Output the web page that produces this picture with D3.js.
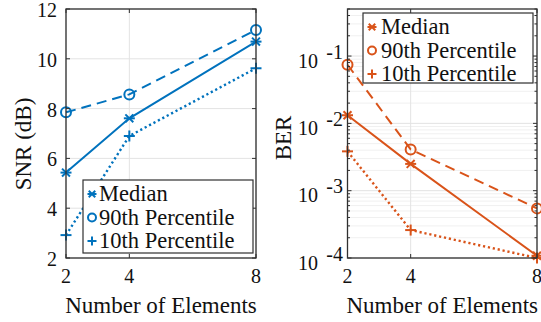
<!DOCTYPE html>
<html>
<head>
<meta charset="utf-8">
<script src="https://cdn.jsdelivr.net/npm/d3@7"></script>
<style>
  body { margin: 0; background: #fff; }
</style>
</head>
<body>
<div id="chart"></div>
<script>
// data
const elements = [2, 4, 8];
const snrMedian = [5.43, 7.61, 10.69];
const snr90 = [7.85, 8.57, 11.16];
const snr10 = [2.92, 6.9, 9.62];
const berMedian = [0.0132, 0.0025, 1.08e-4];
const ber90 = [0.0743, 0.0041, 5.46e-4];
const ber10 = [0.00384, 2.6e-4, 1.0e-4];
const snrTicks = [2, 4, 6, 8, 10, 12];
const berTicks = [1e-4, 1e-3, 1e-2, 1e-1];
const xTicks = [2, 4, 8];
const seriesNames = ["Median", "90th Percentile", "10th Percentile"];

const BLUE = "#0072BD", ORANGE = "#D95319";
const AXIS = "#303030";
const FONT = "Liberation Serif";

const svg = d3.select("#chart")
    .append("svg")
    .attr("width", 541)
    .attr("height", 322);

function label(g, size) {
    return g.append("text")
        .style("font-family", FONT)
        .style("font-size", size + "px")
        .style("fill", "#111");
}

// marker drawing: star (median), circle (90th), plus (10th)
function drawMarker(g, kind, cx, cy, s, color) {
    if (kind === 1) {
        g.append("circle").attr("cx", cx).attr("cy", cy).attr("r", s)
            .attr("fill", "none").attr("stroke", color).attr("stroke-width", 2);
        return;
    }
    let segs = [[-s, 0, s, 0], [0, -s, 0, s]];
    if (kind === 0) {
        let d = s * 0.72;
        segs = [[-d, -d, d, d], [-d, d, d, -d], [-s, 0, s, 0]];
    }
    segs.forEach(function (p) {
        g.append("line")
            .attr("x1", cx + p[0]).attr("y1", cy + p[1])
            .attr("x2", cx + p[2]).attr("y2", cy + p[3])
            .attr("stroke", color).attr("stroke-width", 2);
    });
}

const dashes = [null, "10,6", "2.2,2.8"];

function panel(opts) {
    let x = d3.scaleLinear().domain([2, 8]).range([opts.x0, opts.x1]);
    let y = opts.y;
    let g = svg.append("g");
    let top = opts.yTop, bottom = opts.yBottom;

    // minor grid (log only)
    if (opts.minor) {
        g.selectAll(".minor").data(opts.minor).enter().append("line")
            .attr("x1", opts.x0).attr("x2", opts.x1)
            .attr("y1", function (d) { return y(d); }).attr("y2", function (d) { return y(d); })
            .attr("stroke", "#f0f0f0").attr("stroke-width", 1);
    }
    // major grid
    g.selectAll(".gy").data(opts.ticks).enter().append("line")
        .attr("x1", opts.x0).attr("x2", opts.x1)
        .attr("y1", function (d) { return y(d); }).attr("y2", function (d) { return y(d); })
        .attr("stroke", "#e3e3e3").attr("stroke-width", 1);
    g.selectAll(".gx").data(xTicks).enter().append("line")
        .attr("y1", top).attr("y2", bottom)
        .attr("x1", function (d) { return x(d); }).attr("x2", function (d) { return x(d); })
        .attr("stroke", "#e3e3e3").attr("stroke-width", 1);

    // series lines + markers
    opts.series.forEach(function (vals, i) {
        let line = d3.line()
            .x(function (d, j) { return x(elements[j]); })
            .y(function (d) { return y(d); });
        g.append("path").datum(vals)
            .attr("d", line)
            .attr("fill", "none")
            .attr("stroke", opts.color)
            .attr("stroke-width", i === 2 ? 2.4 : 2)
            .attr("stroke-dasharray", dashes[i]);
        vals.forEach(function (v, j) {
            drawMarker(g, i, x(elements[j]), y(v), i === 1 ? 5 : 5.5, opts.color);
        });
    });

    // box
    g.append("rect")
        .attr("x", opts.x0).attr("y", top)
        .attr("width", opts.x1 - opts.x0).attr("height", bottom - top)
        .attr("fill", "none").attr("stroke", AXIS).attr("stroke-width", 1.3);

    // tick marks (inside, both sides)
    g.selectAll(".tx").data(xTicks).enter().append("path")
        .attr("d", function (d) {
            return `M${x(d)},${bottom}v-4M${x(d)},${top}v4`;
        })
        .attr("stroke", AXIS).attr("stroke-width", 1);
    g.selectAll(".ty").data(opts.ticks).enter().append("path")
        .attr("d", function (d) {
            return `M${opts.x0},${y(d)}h4M${opts.x1},${y(d)}h-4`;
        })
        .attr("stroke", AXIS).attr("stroke-width", 1);
    if (opts.minor) {
        g.selectAll(".tm").data(opts.minor).enter().append("path")
            .attr("d", function (d) {
                return `M${opts.x0},${y(d)}h2.5M${opts.x1},${y(d)}h-2.5`;
            })
            .attr("stroke", AXIS).attr("stroke-width", 1);
    }

    // x tick labels
    xTicks.forEach(function (d) {
        label(g, 20)
            .attr("x", x(d))
            .attr("y", bottom + 25)
            .style("text-anchor", "middle")
            .text(d);
    });

    // x axis label
    label(g, 23)
        .attr("x", (opts.x0 + opts.x1) / 2)
        .attr("y", 313)
        .style("text-anchor", "middle")
        .text("Number of Elements");

    // y axis label
    label(g, 23)
        .attr("transform", `translate(${opts.labelX}, ${opts.labelY}) rotate(-90)`)
        .style("text-anchor", "middle")
        .text(opts.label);

    // legend
    let lg = g.append("g");
    lg.append("rect")
        .attr("x", opts.leg[0]).attr("y", opts.leg[1])
        .attr("width", opts.leg[2]).attr("height", opts.leg[3])
        .attr("fill", "#fff").attr("stroke", AXIS).attr("stroke-width", 1.2);
    seriesNames.forEach(function (name, i) {
        let cy = opts.leg[1] + 14 + i * 23.5;
        drawMarker(lg, i, opts.leg[0] + 9, cy, i === 1 ? 4 : 4.5, opts.color);
        label(lg, 22.5)
            .attr("x", opts.leg[0] + opts.legText)
            .attr("y", cy + 7)
            .text(name);
    });
    return g;
}

// ---- left panel: SNR ----
let ySnr = d3.scaleLinear().domain([2, 12]).range([258, 9]);
let left = panel({
    x0: 66, x1: 256, yTop: 9, yBottom: 258,
    y: ySnr, ticks: snrTicks, minor: null,
    series: [snrMedian, snr90, snr10], color: BLUE,
    label: "SNR (dB)", labelX: 31, labelY: 144,
    leg: [83, 180, 170, 73], legText: 16
});
snrTicks.forEach(function (d) {
    label(left, 20)
        .attr("x", 57)
        .attr("y", ySnr(d) + 8)
        .style("text-anchor", "end")
        .text(d);
});

// ---- right panel: BER ----
let yBer = d3.scaleLog().domain([1e-4, 0.5]).range([258, 9]);
let minorBer = [];
[1e-4, 1e-3, 1e-2, 1e-1].forEach(function (b) {
    for (let k = 2; k <= 9; k++) {
        if (b * k <= 0.5) minorBer.push(b * k);
    }
});
let right = panel({
    x0: 347.5, x1: 537, yTop: 9, yBottom: 258,
    y: yBer, ticks: berTicks, minor: minorBer,
    series: [berMedian, ber90, ber10], color: ORANGE,
    label: "BER", labelX: 291, labelY: 138,
    leg: [363, 13, 170, 70], legText: 18
});
berTicks.forEach(function (d) {
    label(right, 20)
        .attr("x", 318)
        .attr("y", yBer(d) + 11.5)
        .style("text-anchor", "end")
        .text("10");
    label(right, 20)
        .attr("x", 343)
        .attr("y", yBer(d) + 2.5)
        .style("text-anchor", "end")
        .text("-" + Math.round(-Math.log10(d)));
});
</script>
</body>
</html>
